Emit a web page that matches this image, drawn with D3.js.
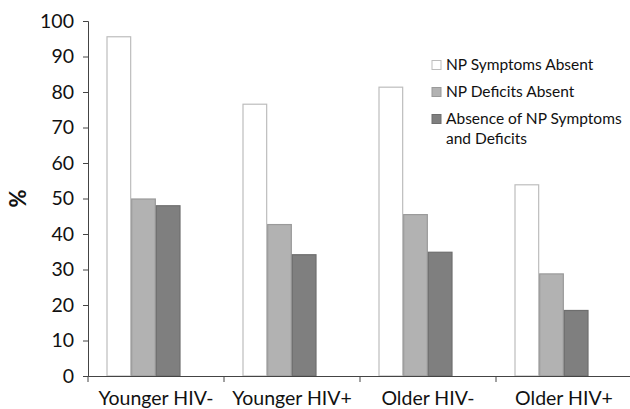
<!DOCTYPE html>
<html>
<head>
<meta charset="utf-8">
<script src="https://cdn.jsdelivr.net/npm/d3@7"></script>
<style>
  body { margin: 0; background: #fff; }
  svg text { font-family: Lato, "Open Sans", sans-serif; fill: #111; }
</style>
</head>
<body>
<div id="chart"></div>
<script>
// --------------------
// DATA
// --------------------
const groups = ["Younger HIV-", "Younger HIV+", "Older HIV-", "Older HIV+"];
const seriesNames = ["NP Symptoms Absent", "NP Deficits Absent", "Absence of NP Symptoms and Deficits"];
const symptomsAbsent = [95.7, 76.7, 81.5, 54.0];
const deficitsAbsent = [50.0, 42.8, 45.6, 28.9];
const bothAbsent = [48.1, 34.3, 35.0, 18.6];
const yTicks = [0, 10, 20, 30, 40, 50, 60, 70, 80, 90, 100];

const seriesValues = [symptomsAbsent, deficitsAbsent, bothAbsent];
const fills = ["#ffffff", "#b2b2b2", "#7f7f7f"];
const strokes = ["#bdbdbd", "#9a9a9a", "#6e6e6e"];

// --------------------
// CHART
// --------------------
const width = 630;
const height = 409;
const margin = { top: 21, right: -2, bottom: 33, left: 88 };

const svg = d3.select("#chart")
  .append("svg")
  .attr("width", width)
  .attr("height", height);

const x = d3.scaleBand()
  .domain(groups)
  .range([margin.left, width - margin.right])
  .padding(0);

// bars sit a little left of the band centre, like the original
const xInner = d3.scaleBand()
  .domain(d3.range(seriesNames.length))
  .range([18.5, 92.5])
  .padding(0);

const y = d3.scaleLinear()
  .domain([0, 100])
  .range([height - margin.bottom, margin.top]);

// Bars
seriesValues.forEach((vals, s) => {
  svg.append("g")
    .selectAll("rect")
    .data(vals)
    .join("rect")
    .attr("x", (d, i) => x(groups[i]) + xInner(s) + 0.5)
    .attr("y", d => y(d) + 0.5)
    .attr("width", xInner.bandwidth() - 1)
    .attr("height", d => y(0) - y(d) - 0.5)
    .attr("fill", fills[s])
    .attr("stroke", strokes[s])
    .attr("stroke-width", 1.2);
});

// Y axis
const yAxis = svg.append("g")
  .attr("transform", `translate(${margin.left},0)`)
  .call(d3.axisLeft(y).tickValues(yTicks).tickSize(5).tickPadding(9));
yAxis.selectAll("text").style("font-size", "19.5px").attr("fill", "#111");

// X axis
const xAxis = svg.append("g")
  .attr("transform", `translate(0,${y(0)})`)
  .call(d3.axisBottom(x).tickSize(0).tickPadding(15));
xAxis.selectAll("text").style("font-size", "19.5px").attr("fill", "#111");

// category separators on x axis
svg.append("g")
  .selectAll("line")
  .data(groups)
  .join("line")
  .attr("x1", d => x(d))
  .attr("x2", d => x(d))
  .attr("y1", y(0))
  .attr("y2", y(0) + 6)
  .attr("stroke", "#444");

svg.selectAll(".domain, .tick line").attr("stroke", "#444");

// Y label
svg.append("text")
  .attr("transform", `translate(26,${(y(0) + y(100)) / 2}) rotate(-90)`)
  .attr("text-anchor", "middle")
  .style("font-size", "22px")
  .style("font-weight", "bold")
  .text("%");

// --------------------
// LEGEND
// --------------------
const legendRows = [
  { lines: ["NP Symptoms Absent"], y: 65 },
  { lines: ["NP Deficits Absent"], y: 92 },
  { lines: ["Absence of NP Symptoms", "and Deficits"], y: 119 }
];

const legend = svg.append("g");
legendRows.forEach((row, i) => {
  legend.append("rect")
    .attr("x", 432)
    .attr("y", row.y - 4.5)
    .attr("width", 9)
    .attr("height", 9)
    .attr("fill", fills[i])
    .attr("stroke", strokes[i]);
  row.lines.forEach((t, j) => {
    legend.append("text")
      .attr("x", 446)
      .attr("y", row.y + 5 + j * 20)
      .style("font-size", "15.5px")
      .text(t);
  });
});
</script>
</body>
</html>
